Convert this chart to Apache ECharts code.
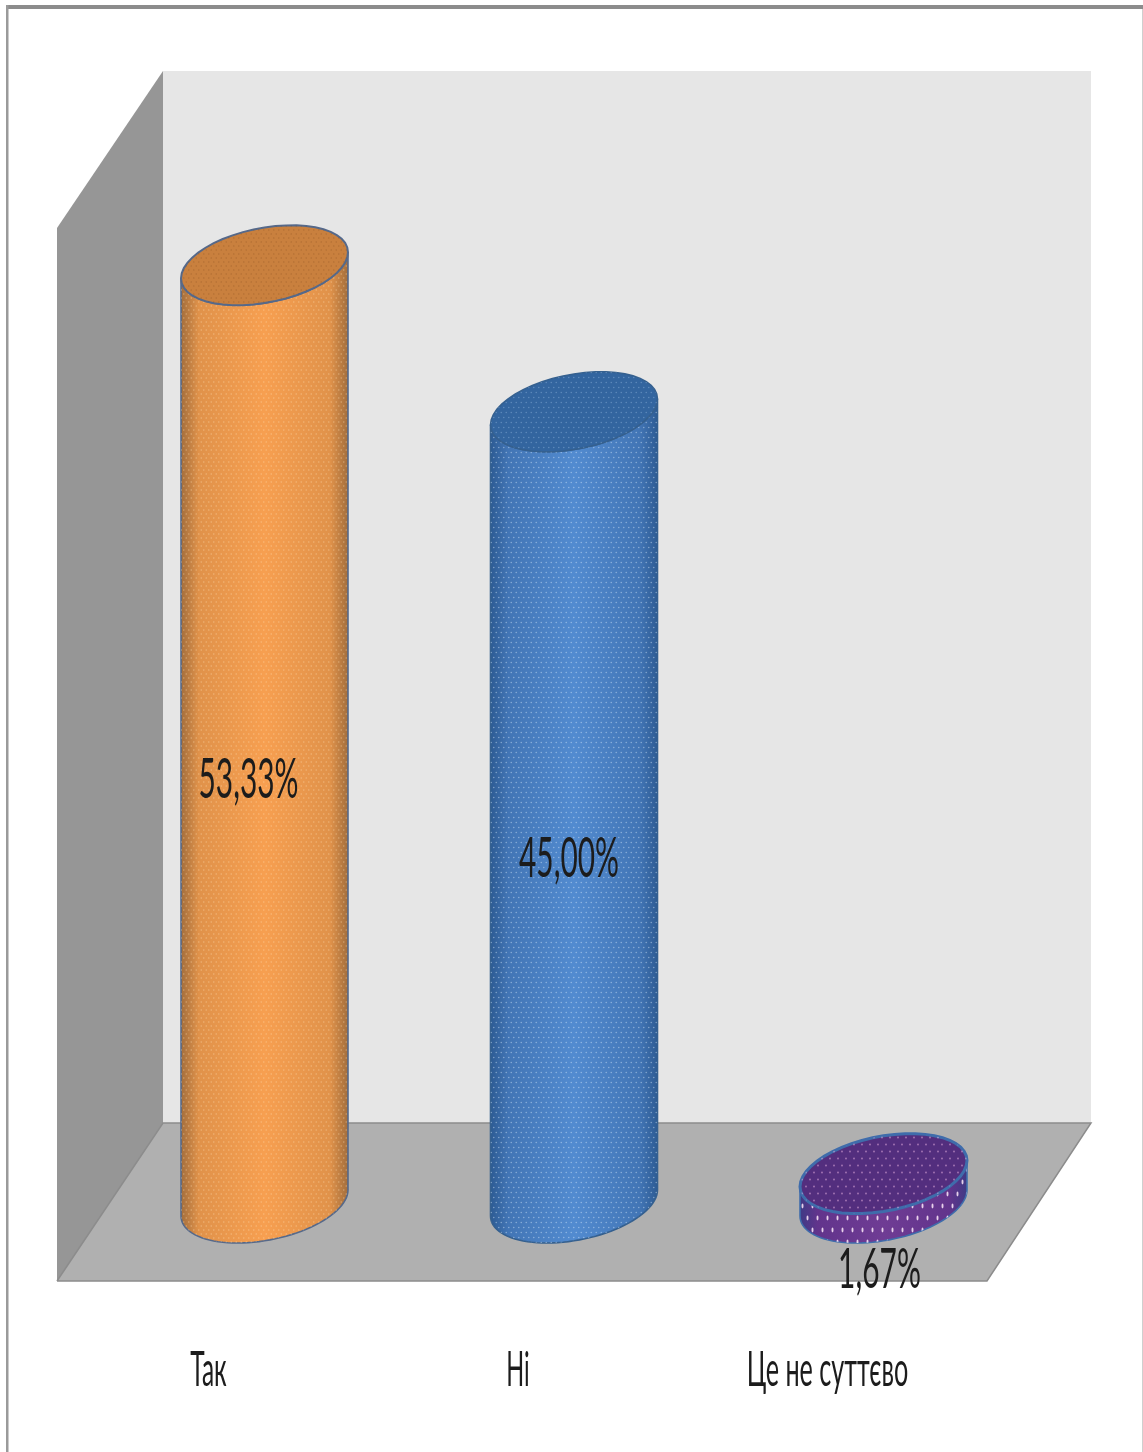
<!DOCTYPE html>
<html>
<head>
<meta charset="utf-8">
<style>
html,body{margin:0;padding:0;background:#fff;}
#c{width:1143px;height:1452px;filter:blur(0.5px);}
</style>
<script src="https://cdn.jsdelivr.net/npm/echarts@6/dist/echarts.min.js"></script>
</head>
<body>
<div id="c"></div>
<script>
const categories = ['Так', 'Ні', 'Це не суттєво'];
const values = [53.33, 45.00, 1.67];
const valueLabels = ['53,33%', '45,00%', '1,67%'];

const looks = [
  {edge:'#a06c3c', mid:'#e0924a', light:'#f79f50', cap:'#c9803e', line:'#56698a', rim:2, dot:[5,4,'rgba(255,226,180,0.4)',0.8,0.8], capDot:[5,4,'rgba(110,65,20,0.25)',0.8,0.8]},
  {edge:'#2c5a92', mid:'#4275b5', light:'#528bd0', cap:'#33659f', line:'#35608f', rim:1.5, dot:[5,5,'rgba(225,240,255,0.42)',0.8,0.8], capDot:[5,5,'rgba(190,220,250,0.3)',0.8,0.8]},
  {edge:'#3d3a85', mid:'#62348c', light:'#6f3c94', cap:'#532e7e', line:'#3f6cab', rim:3, dot:[10,12,'rgba(255,235,250,0.85)',1,2.4], capDot:[8,7,'rgba(235,180,225,0.55)',0.9,1.1]}
];

function pattern(spec){
  const [w,h,col,rx,ry] = spec;
  const cv = document.createElement('canvas');
  cv.width = w; cv.height = h*2;
  const g = cv.getContext('2d');
  g.fillStyle = col;
  [[w/4,h/2],[w*3/4,h*1.5]].forEach(p=>{g.beginPath();g.ellipse(p[0],p[1],rx,ry,0,0,Math.PI*2);g.fill();});
  return {image:cv, repeat:'repeat'};
}
const patterns = looks.map(l=>({body:pattern(l.dot), cap:pattern(l.capDot)}));

const WIDTH_RATIO = 0.5395, SKEW = 0.156, MINOR = 0.453;
const LABEL_DX = [-16, -5, -4], LABEL_DY = [46, 52, 82];
const LABEL_SCALE = [0.533, 0.533, 0.534];
const CAT_DX = -56, CAT_DY = 168, CAT_SCALE = [0.51, 0.49, 0.525];

function arc(cx, cy, rx, from, to){
  const pts = [], n = 48;
  for(let i=0;i<=n;i++){
    const t = from + (to-from)*i/n;
    pts.push([cx+rx*Math.cos(t), cy-rx*SKEW*Math.cos(t)+rx*MINOR*Math.sin(t)]);
  }
  return pts;
}

function renderCylinder(params, api){
  const i = params.dataIndex, v = api.value(1);
  const base = api.coord([i, 0]), top = api.coord([i, v]);
  const rx = api.size([1, 0])[0]*WIDTH_RATIO/2;
  const cx = base[0], look = looks[i], pat = patterns[i];
  const sideTop = arc(cx, top[1], rx, 0, Math.PI);
  const sideBase = arc(cx, base[1], rx, Math.PI, 0);
  const body = sideBase.concat(sideTop);
  const cap = arc(cx, top[1], rx, 0, Math.PI*2);
  const grad = {type:'linear',x:0,y:0,x2:1,y2:0,colorStops:[
    {offset:0,color:look.edge},{offset:0.11,color:look.mid},{offset:0.5,color:look.light},
    {offset:0.89,color:look.mid},{offset:1,color:look.edge}]};
  const shape = p => ({points:p});
  return {type:'group', children:[
    {type:'polygon', shape:shape(body), style:{fill:grad, stroke:look.line, lineWidth:1.6}},
    {type:'polygon', shape:shape(body), style:{fill:pat.body}},
    {type:'polygon', shape:shape(cap), style:{fill:look.cap, stroke:look.line, lineWidth:look.rim}},
    {type:'polygon', shape:shape(cap), style:{fill:pat.cap}},
    {type:'text', x:cx+LABEL_DX[i], y:(base[1]+top[1])/2+LABEL_DY[i], scaleX:LABEL_SCALE[i], z2:10,
      style:{text:valueLabels[i], fontFamily:'Lato', fontSize:56, fill:'#1c1c1c', align:'center', verticalAlign:'middle'}},
    {type:'text', x:cx+CAT_DX, y:base[1]+CAT_DY, scaleX:CAT_SCALE[i], z2:10,
      style:{text:categories[i], fontFamily:'Lato', fontSize:48, fill:'#1c1c1c', align:'center', verticalAlign:'middle'}}
  ]};
}

const chart = echarts.init(document.getElementById('c'), null, {renderer:'canvas'});
chart.setOption({
  backgroundColor:'#ffffff',
  animation:false,
  grid:{left:109.75, width:928.5, top:148, height:1055, containLabel:false},
  xAxis:{type:'category', data:categories, axisLine:{show:false}, axisTick:{show:false}, axisLabel:{show:false}},
  yAxis:{type:'value', min:0, max:60, interval:10, axisLine:{show:false}, axisTick:{show:false}, axisLabel:{show:false}, splitLine:{show:false}},
  graphic:{elements:[
    {type:'rect', shape:{x:6,y:5,width:1137,height:4}, style:{fill:'#8c8c8c'}, z:0},
    {type:'rect', shape:{x:6,y:5,width:2.5,height:1447}, style:{fill:'#9a9a9a'}, z:0},
    {type:'rect', shape:{x:1142,y:9,width:1,height:1443}, style:{fill:'#cfcfcf'}, z:0},
    {type:'rect', shape:{x:163,y:71,width:928,height:1052}, style:{fill:'#e6e6e6'}, z:0},
    {type:'polygon', shape:{points:[[57,228],[163,71],[163,1123],[57,1281]]}, style:{fill:'#969696'}, z:0},
    {type:'polygon', shape:{points:[[163,1123],[1091,1123],[987,1281],[57,1281]]}, style:{fill:'#b0b0b0'}, z:0},
    {type:'polyline', shape:{points:[[57,1281],[163,1123],[1091,1123],[987,1281],[57,1281]]}, style:{fill:null, stroke:'#8c8c8c', lineWidth:1.5}, z:0}
  ]},
  series:[{type:'custom', coordinateSystem:'cartesian2d', renderItem:renderCylinder, clip:false,
    encode:{x:0,y:1}, data:categories.map((c,i)=>[i,values[i]])}]
});
</script>
</body>
</html>
